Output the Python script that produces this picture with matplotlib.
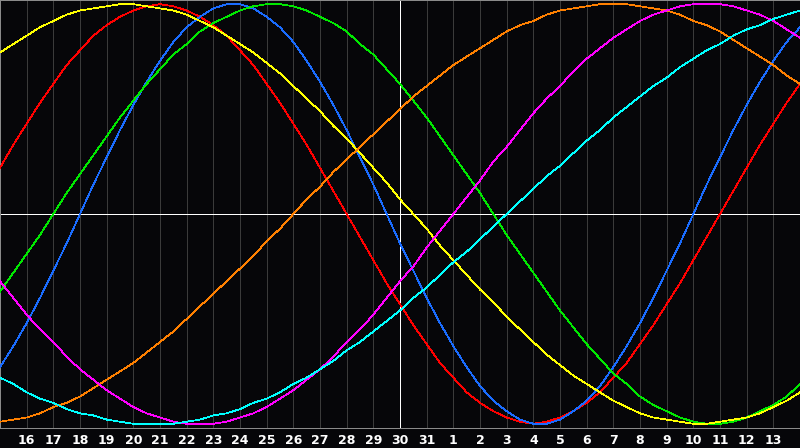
import numpy as np
import matplotlib
matplotlib.use("Agg")
import matplotlib.pyplot as plt

# ── Data ──────────────────────────────────────────────────────
# day labels along the bottom (first and last are the chart edges)
day_labels = ["15", "16", "17", "18", "19", "20", "21", "22", "23", "24", "25",
              "26", "27", "28", "29", "30", "31", "1", "2", "3", "4", "5",
              "6", "7", "8", "9", "10", "11", "12", "13", "14"]

# curve values in % of full swing, one reading every half day
red = [22, 33, 43, 53, 62, 71, 78, 85, 90, 94, 97, 99, 100, 99, 97, 94, 90, 85, 78, 71,
       62, 53, 43, 33, 22, 11, 0, -11, -22, -33, -43, -53, -62, -71, -78, -85, -90, -94,
       -97, -99, -100, -99, -97, -94, -90, -85, -78, -71, -62, -53, -43, -33, -22, -11,
       0, 11, 22, 33, 43, 53, 62]
blue = [-73, -63, -52, -40, -27, -14, 0, 14, 27, 40, 52, 63, 73, 82, 89, 94, 98, 100, 100,
        98, 94, 89, 82, 73, 63, 52, 40, 27, 14, 0, -14, -27, -40, -52, -63, -73, -82, -89,
        -94, -98, -100, -100, -98, -94, -89, -82, -73, -63, -52, -40, -27, -14, 0, 14, 27,
        40, 52, 63, 73, 82, 89]
green = [-37, -28, -19, -10, 0, 10, 19, 28, 37, 46, 54, 62, 69, 76, 81, 87, 91, 94, 97, 99,
         100, 100, 99, 97, 94, 91, 87, 81, 76, 69, 62, 54, 46, 37, 28, 19, 10, 0, -10, -19,
         -28, -37, -46, -54, -62, -69, -76, -81, -87, -91, -94, -97, -99, -100, -100, -99,
         -97, -94, -91, -87, -81]
yellow = [77, 81, 85, 89, 92, 95, 97, 98, 99, 100, 100, 99, 98, 97, 95, 92, 89, 85, 81, 77,
          72, 67, 61, 55, 49, 42, 36, 29, 22, 15, 7, 0, -7, -15, -22, -29, -36, -42, -49,
          -55, -61, -67, -72, -77, -81, -85, -89, -92, -95, -97, -98, -99, -100, -100, -99,
          -98, -97, -95, -92, -89, -85]
orange = [-99, -98, -97, -95, -92, -90, -87, -83, -79, -75, -71, -66, -61, -56, -50, -44,
          -38, -32, -26, -20, -13, -7, 0, 7, 13, 20, 26, 32, 38, 44, 50, 56, 61, 66, 71, 75,
          79, 83, 87, 90, 92, 95, 97, 98, 99, 100, 100, 100, 99, 98, 97, 95, 92, 90, 87, 83,
          79, 75, 71, 66, 62]
magenta = [-32, -40, -48, -55, -61, -68, -74, -79, -84, -88, -92, -95, -97, -99, -100, -100,
           -100, -99, -97, -95, -92, -88, -84, -79, -74, -68, -61, -55, -48, -40, -32, -25,
           -16, -8, 0, 8, 16, 25, 32, 40, 48, 55, 61, 68, 74, 79, 84, 88, 92, 95, 97, 99,
           100, 100, 100, 99, 97, 95, 92, 88, 84]
cyan = [-78, -81, -85, -88, -90, -93, -95, -96, -98, -99, -100, -100, -100, -100, -99, -98,
        -96, -95, -93, -90, -88, -85, -81, -78, -74, -70, -65, -61, -56, -51, -46, -40, -35,
        -29, -23, -18, -12, -6, 0, 6, 12, 18, 23, 29, 35, 40, 46, 51, 56, 61, 65, 70, 74,
        78, 81, 85, 88, 90, 93, 95, 97]

series = [
    (red, "#ff0000"),
    (blue, "#1a6cff"),
    (green, "#00e800"),
    (yellow, "#ffff00"),
    (orange, "#ff8000"),
    (magenta, "#ff00ff"),
    (cyan, "#00ffff"),
]

BG = "#060609"
GRID = "#3a3a3a"
BORDER = "#8a8a8a"

fig = plt.figure(figsize=(8, 4.48), dpi=100, facecolor=BG)
ax = fig.add_axes([0, 20 / 448, 1, 428 / 448])
ax.set_facecolor(BG)

n_days = len(day_labels)
days = np.arange(n_days)
t = np.linspace(0, n_days - 1, len(red))   # half-day steps

# vertical day grid
for d in days[1:-1]:
    ax.axvline(d, color=GRID, linewidth=0.72, antialiased=False, zorder=1)

# centre cross
mid = n_days // 2
ax.axvline(mid, color="white", linewidth=0.72, antialiased=False, zorder=2)
ax.axhline(0, color="white", linewidth=0.72, antialiased=False, zorder=2)

for vals, col in series:
    ax.plot(t, vals, color=col, linewidth=0.55, antialiased=False, zorder=3)

ax.set_xlim(0, n_days - 1)
ax.set_ylim(-102, 102)
ax.set_yticks([])
ax.set_xticks(days[1:-1])
ax.set_xticklabels(day_labels[1:-1], color="white", fontsize=9, fontweight="bold")
ax.tick_params(axis="x", length=0, pad=4)

for side in ["left", "top", "right", "bottom"]:
    ax.spines[side].set_color(BORDER)
    ax.spines[side].set_linewidth(0.72)

plt.savefig("out.png", dpi=100, facecolor=BG)
